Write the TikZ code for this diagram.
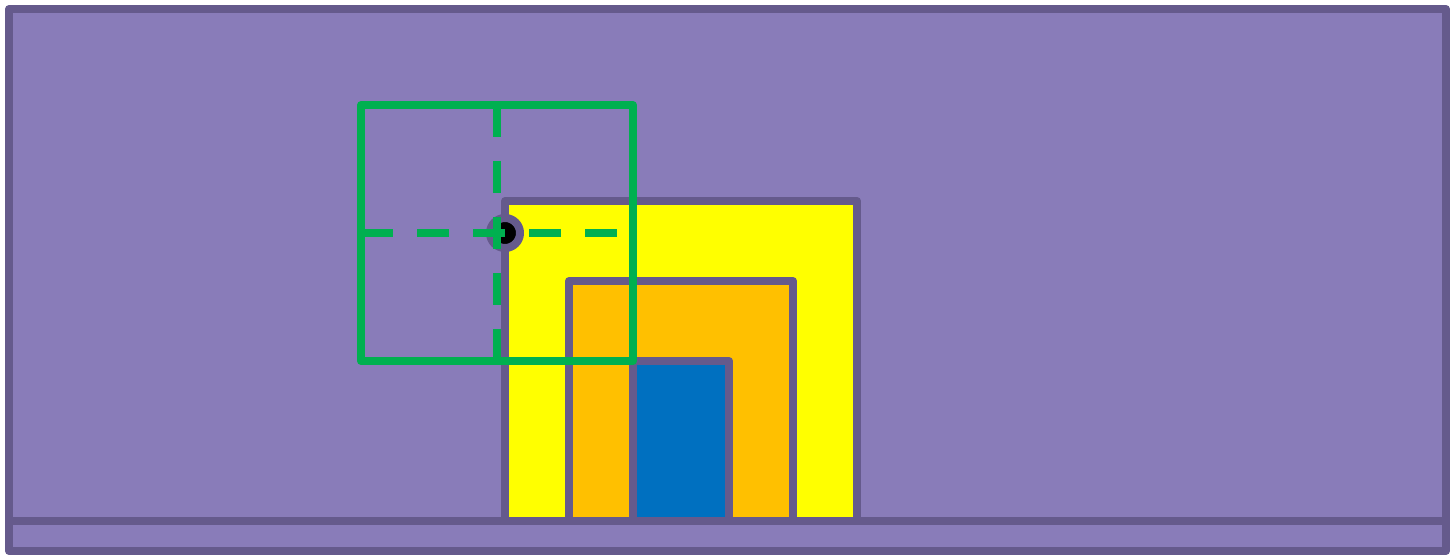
\documentclass[tikz,border=0pt]{standalone}
\usepackage{tikz}
\usetikzlibrary{positioning}
\definecolor{wall}{RGB}{137,124,185}
\definecolor{rim}{RGB}{101,90,140}
\definecolor{guidegreen}{RGB}{0,176,80}
\definecolor{boxyellow}{RGB}{255,255,0}
\definecolor{boxorange}{RGB}{255,192,0}
\definecolor{boxblue}{RGB}{0,112,192}

\begin{document}
\begin{tikzpicture}[x=0.5pt, y=-0.5pt, line join=round,
    rimline/.style={draw=rim, line width=4pt},
    guide/.style={draw=guidegreen, line width=4pt},
    guidedash/.style={guide, dash pattern=on 16pt off 12pt}]
        \useasboundingbox (0,0) rectangle (1450,555);

        % Frame and floor
        \filldraw[rimline, fill=wall] (9,9) rectangle (1446,551);
        \coordinate (floorL) at (9,521);
        \coordinate (floorR) at (1446,521);

        % Nested boxes
        \filldraw[rimline, fill=boxyellow] (505,521) rectangle (857,201);
        \filldraw[rimline, fill=boxorange] (569,521) rectangle (793,281);
        \filldraw[rimline, fill=boxblue] (633,521) rectangle (729,361);
        \draw[rimline] (floorL) -- (floorR);

        % Point
        \coordinate (P) at (505,233);
        \filldraw[rimline, fill=black] (P) circle[radius=7.5pt];

        % Green square and cross
        \coordinate (gTL) at (361,105);
        \coordinate (gBR) at (633,361);
        \coordinate (gT) at (497,105);
        \coordinate (gB) at (497,361);
        \coordinate (gL) at (361,233);
        \coordinate (gR) at (633,233);
        \draw[guide] (gTL) rectangle (gBR);
        \draw[guidedash] (gT) -- (gB);
        \draw[guidedash] (gL) -- (gR);
    \end{tikzpicture}
\end{document}
